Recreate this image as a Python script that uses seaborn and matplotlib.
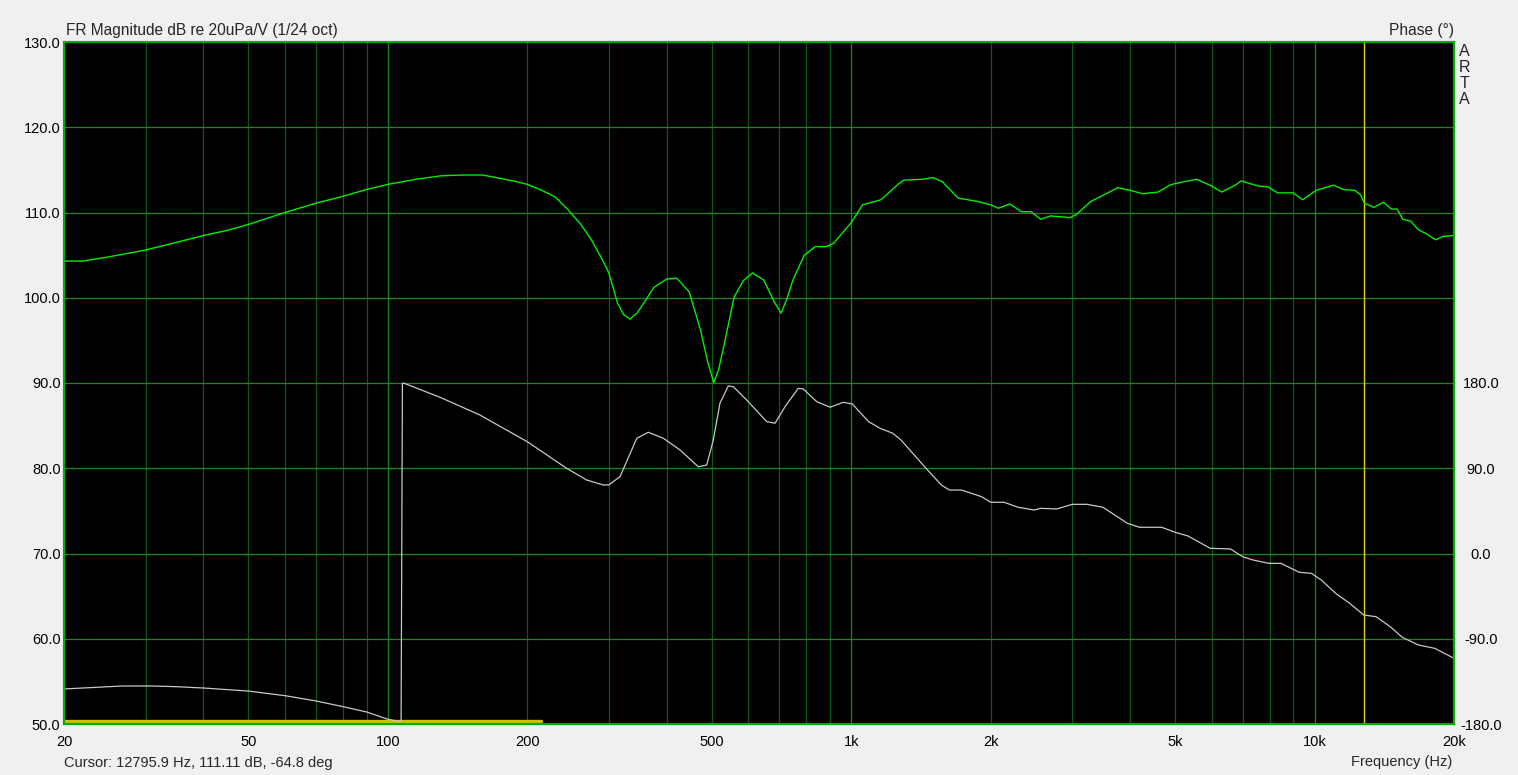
import seaborn as sns
import matplotlib.pyplot as plt
import pandas as pd
import numpy as np

# Magnitude response (dB re 20uPa/V)
mag_freq = [20, 22, 25, 30, 35, 40, 45, 50, 60, 70, 80, 90, 100, 115, 130, 145, 160, 175,
            190, 200, 215, 230, 245, 260, 275, 290, 300, 313, 323, 333, 345, 357, 375, 400,
            420, 447, 473, 490, 505, 517, 529, 559, 585, 612, 647, 684, 706, 728, 749, 792,
            837, 884, 917, 1000, 1058, 1160, 1268, 1300, 1430, 1500, 1574, 1700, 1870, 2000,
            2078, 2200, 2330, 2444, 2564, 2690, 2962, 3050, 3290, 3551, 3760, 4000, 4260,
            4598, 4868, 5000, 5568, 6000, 6306, 6744, 6942, 7566, 7938, 8324, 8985, 9427,
            10082, 10986, 11530, 12210, 12566, 12806, 13430, 14090, 14640, 15070, 15510,
            16110, 16740, 17560, 18240, 18950, 20000]
mag_db = [104.3, 104.3, 104.8, 105.6, 106.5, 107.3, 107.9, 108.6, 110.0, 111.1, 111.9, 112.7,
          113.3, 113.9, 114.3, 114.4, 114.4, 114.0, 113.6, 113.3, 112.6, 111.8, 110.3, 108.7,
          106.8, 104.5, 102.9, 99.4, 98.0, 97.5, 98.2, 99.4, 101.2, 102.2, 102.3, 100.7, 96.2,
          92.5, 90.05, 91.5, 93.9, 100.1, 102.0, 102.9, 102.1, 99.4, 98.2, 100.0, 102.1, 105.0,
          106.0, 106.0, 106.4, 108.8, 110.9, 111.5, 113.4, 113.8, 113.9, 114.1, 113.6, 111.7,
          111.3, 110.9, 110.5, 111.0, 110.1, 110.1, 109.2, 109.6, 109.4, 109.7, 111.3, 112.2,
          112.9, 112.6, 112.2, 112.4, 113.2, 113.4, 113.9, 113.1, 112.4, 113.2, 113.7, 113.1,
          113.0, 112.3, 112.3, 111.5, 112.6, 113.2, 112.7, 112.6, 112.1, 111.1, 110.6, 111.2,
          110.4, 110.4, 109.2, 109.0, 108.0, 107.4, 106.8, 107.2, 107.3]

# Phase (deg), wrapped to +-180
ph_freq = [20, 26.7, 31, 35, 40, 50, 60, 70, 80, 90, 100, 106.8, 107.5, 108.5, 129.6, 158,
           200, 243, 268.6, 291.8, 300, 317, 344.5, 364.9, 393.3, 427.2, 467.7, 487.8, 503.9,
           520.9, 543, 556.7, 594.8, 657.4, 684.9, 719.8, 768.8, 788.2, 842.6, 900.5, 961.9,
           1005.7, 1090, 1154, 1230, 1281, 1444, 1565, 1629, 1730, 1912, 2000, 2137, 2292,
           2485, 2561, 2776, 3000, 3228, 3494, 3945, 4188, 4678, 5000, 5333, 5955, 6585,
           6994, 7356, 7971, 8463, 9267, 9842, 10346, 11100, 11910, 12780, 13577, 14570,
           15470, 16760, 18170, 20000]
ph_deg = [-143.0, -139.9, -139.9, -140.6, -142.0, -145.2, -150.1, -155.7, -161.7, -167.3,
          -175.0, -177.6, 179.7, 179.7, 164.9, 146.2, 118.0, 90.0, 77.6, 72.3, 72.5, 81.1,
          121.6, 128.0, 121.6, 109.3, 91.6, 93.4, 119.8, 158.6, 176.8, 176.1, 162.1, 139.2,
          137.5, 155.0, 174.4, 173.7, 160.3, 154.4, 159.6, 157.9, 139.2, 132.2, 126.9, 119.8,
          91.0, 72.3, 67.0, 67.0, 60.0, 54.1, 54.1, 48.8, 45.9, 47.7, 47.0, 51.9, 51.9, 48.8,
          31.9, 27.7, 27.7, 22.4, 18.5, 5.5, 4.8, -3.3, -6.8, -10.4, -10.4, -19.8, -20.9,
          -28.0, -42.0, -52.6, -65.0, -66.7, -77.3, -88.5, -96.6, -100.1, -110.6]

# yellow range marker at the bottom and cursor position
range_freq = [20, 214]
range_db = [50.35, 50.35]
cursor_freq = 12795.9

x_ticks = [20, 50, 100, 200, 500, 1000, 2000, 5000, 10000, 20000]
x_labels = ["20", "50", "100", "200", "500", "1k", "2k", "5k", "10k", "20k"]
mag_ticks = [50, 60, 70, 80, 90, 100, 110, 120, 130]
ph_ticks = [-180, -90, 0, 90, 180]

mag = pd.DataFrame({"freq": mag_freq, "db": mag_db})
phase = pd.DataFrame({"freq": ph_freq, "deg": ph_deg})
rng = pd.DataFrame({"freq": range_freq, "db": range_db})

sns.set_style("white")
plt.rcParams["font.family"] = ["Liberation Sans", "DejaVu Sans"]
plt.rcParams["font.size"] = 10.5

W, H = 1518, 775
fig = plt.figure(figsize=(W / 100, H / 100), dpi=100, facecolor="#f0f0f0")
ax = fig.add_axes([64 / W, 1 - 724 / H, 1390 / W, 682 / H])
ax.set_facecolor("black")

major_grid = "#148a14"
minor_grid = "#0b5a16"
ax.set_xscale("log")
ax.set_xlim(20, 20000)
ax.set_ylim(50, 130)

# grid lines
for dec in [10, 100, 1000, 10000]:
    for m in range(1, 10):
        f = dec * m
        if 20 < f < 20000:
            ax.axvline(f, color=major_grid if m == 1 else minor_grid, lw=0.9, zorder=0)
for v in mag_ticks[1:-1]:
    ax.axhline(v, color=major_grid, lw=0.9, zorder=0)

sns.lineplot(data=rng, x="freq", y="db", ax=ax, color="#c4c400", linewidth=2.4,
             estimator=None, sort=False)
ax.axvline(cursor_freq, color="#d8d800", lw=1.0, zorder=1)
sns.lineplot(data=mag, x="freq", y="db", ax=ax, color="#00f000", linewidth=1.0,
             estimator=None, sort=False)

# phase scale occupies the lower half: +180 at 90 dB, -180 at 50 dB
ax2 = ax.twinx()
ax2.set_ylim(-180, 540)
sns.lineplot(data=phase, x="freq", y="deg", ax=ax2, color="#c8c8c8", linewidth=0.9,
             estimator=None, sort=False)
ax2.set_xlim(20, 20000)

ax.set_xticks(x_ticks)
ax.set_xticklabels(x_labels)
ax.xaxis.set_minor_locator(plt.NullLocator())
ax.set_yticks(mag_ticks)
ax.set_yticklabels([f"{v:.1f}" for v in mag_ticks])
ax2.set_yticks(ph_ticks)
ax2.set_yticklabels([f"{v:.1f}" for v in ph_ticks])
ax.tick_params(axis="x", length=0, pad=8, labelsize=10.5, colors="black")
ax.tick_params(axis="y", length=0, pad=2.5, labelsize=10.5, colors="black")
ax2.tick_params(axis="y", length=0, pad=19.5, labelsize=10.5, colors="black")
for lab in ax2.get_yticklabels():
    lab.set_horizontalalignment("center")

ax.set_xlabel("")
ax.set_ylabel("")
ax2.set_ylabel("")
for a in (ax, ax2):
    for s in a.spines.values():
        s.set_color("#00b000")
        s.set_linewidth(1.5)

fig.text(66 / W, 1 - 30 / H, "FR Magnitude dB re 20uPa/V (1/24 oct)", ha="left", va="center",
         fontsize=11.2)
fig.text(1454 / W, 1 - 30 / H, "Phase (°)", ha="right", va="center", fontsize=11.2)
fig.text(1452 / W, 1 - 762 / H, "Frequency (Hz)", ha="right", va="center")
fig.text(64 / W, 1 - 763 / H, "Cursor: 12795.9 Hz, 111.11 dB, -64.8 deg", ha="left", va="center")
for i, ch in enumerate("ARTA"):
    fig.text(1464 / W, 1 - (51 + 16 * i) / H, ch, ha="center", va="center", fontsize=11.5)

fig.savefig("out.png", dpi=100, facecolor=fig.get_facecolor())
